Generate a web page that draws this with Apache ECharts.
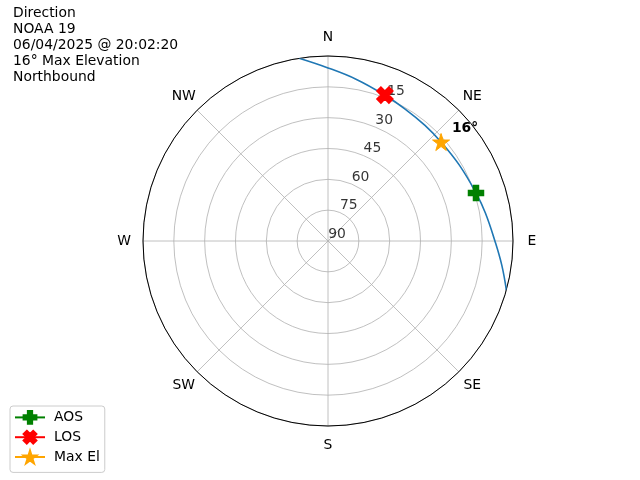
<!DOCTYPE html>
<html><head><meta charset="utf-8">
<script src="https://cdn.jsdelivr.net/npm/echarts@6/dist/echarts.min.js"></script>
<style>html,body{margin:0;padding:0;background:#fff}#c{width:640px;height:480px}</style>
</head><body><div id="c"></div>
<script>
// Pass track: azimuth (deg) and elevation (deg)
var trackAz = [351, 0, 10, 21, 30, 40, 49, 60, 72, 80, 90, 98, 105.4];
var trackEl = [0, 5.8, 10.2, 13.8, 15.6, 16.6, 16.9, 16.2, 14.3, 12.2, 8.8, 4.6, 0];
var aosPoint = [14.3, 72];   // [elevation, azimuth]
var losPoint = [13.8, 21.3];
var maxElPoint = [16.9, 48.8];
var maxElLabel = '16°';
var dirLabels = ['N', 'NE', 'E', 'SE', 'S', 'SW', 'W', 'NW'];
var dirAngles = [0, 45, 90, 135, 180, 225, 270, 315];
var radTicks = [90, 75, 60, 45, 30, 15];
var titleLines = ['Direction', 'NOAA 19', '06/04/2025 @ 20:02:20', '16° Max Elevation', 'Northbound'];

var trackData = trackAz.map(function (a, i) { return [trackEl[i], a]; });
var FONT = 'DejaVu Sans';
var FS = 13.9;
var DIR_PAD = 19; // px outside the horizon circle
var plusPath = 'path://M4,0H8V4H12V8H8V12H4V8H0V4H4Z';
var xPath = 'path://M3,0L6,3L9,0L12,3L9,6L12,9L9,12L6,9L3,12L0,9L3,6L0,3Z';
var starPath = 'path://M10,0L12.25,6.91L19.51,6.91L13.63,11.18L15.88,18.09L10,13.82L4.12,18.09L6.37,11.18L0.49,6.91L7.75,6.91Z';

var chart = echarts.init(document.getElementById('c'));
chart.setOption({
  animation: false,
  backgroundColor: '#fff',
  title: {
    text: titleLines.join('\n'), left: 13, top: 5, padding: 0,
    textStyle: { fontFamily: FONT, fontSize: FS, fontWeight: 'normal', color: '#000', lineHeight: 16 }
  },
  legend: {
    orient: 'vertical', left: 10, top: 406,
    itemWidth: 30, itemHeight: 16, itemGap: 5,
    padding: [4, 5, 8, 4],
    borderColor: '#cccccc', borderWidth: 1, borderRadius: 3,
    textStyle: { fontFamily: FONT, fontSize: FS, color: '#000', padding: [0, 0, 0, 4] },
    data: ['AOS', 'LOS', 'Max El']
  },
  polar: { center: [328, 241], radius: 185 },
  angleAxis: {
    type: 'value', min: 0, max: 360, interval: 45, startAngle: 90, clockwise: true,
    axisLine: { lineStyle: { color: '#000', width: 1 } },
    axisTick: { show: false },
    axisLabel: { show: false },
    splitLine: { show: true, lineStyle: { color: '#b0b0b0', width: 0.8 } }
  },
  radiusAxis: {
    type: 'value', min: 0, max: 90, interval: 15, inverse: true,
    axisLine: { show: false }, axisTick: { show: false }, axisLabel: { show: false },
    splitLine: { show: true, lineStyle: { color: '#b0b0b0', width: 0.8 } }
  },
  series: [
    {
      type: 'scatter', coordinateSystem: 'polar', symbolSize: 0, silent: true, z: 1,
      data: radTicks.map(function (t) { return [t, 22.5]; }),
      label: {
        show: true, position: 'inside', offset: [9, -7], color: '#000', fontFamily: FONT, fontSize: FS,
        formatter: function (p) { return String(p.value[0]); }
      }
    },
    {
      name: 'track', type: 'line', coordinateSystem: 'polar', data: trackData,
      smooth: 0.4, showSymbol: false, symbol: 'none', z: 3,
      lineStyle: { color: '#1f77b4', width: 1.6 }
    },
    {
      name: 'AOS', type: 'line', coordinateSystem: 'polar', data: [aosPoint], z: 5,
      symbol: plusPath, symbolSize: 15, itemStyle: { color: '#008000', borderColor: '#008000', borderWidth: 1.5 },
      lineStyle: { color: '#008000', width: 1.5 }
    },
    {
      name: 'LOS', type: 'line', coordinateSystem: 'polar', data: [losPoint], z: 5,
      symbol: xPath, symbolSize: 16, itemStyle: { color: '#ff0000', borderColor: '#ff0000', borderWidth: 1.5 },
      lineStyle: { color: '#ff0000', width: 1.5 }
    },
    {
      name: 'Max El', type: 'line', coordinateSystem: 'polar', data: [maxElPoint], z: 5,
      symbol: starPath, symbolSize: 17, itemStyle: { color: '#ffa500', borderColor: '#ffa500', borderWidth: 1 },
      lineStyle: { color: '#ffa500', width: 1.5 },
      label: {
        show: true, position: 'inside', offset: [24, -14], color: '#000',
        fontFamily: FONT, fontSize: FS, fontWeight: 'bold',
        formatter: function () { return maxElLabel; }
      }
    }
  ]
});

// Compass labels, centred just outside the horizon ring (positions from the polar scale)
var c = chart.convertToPixel({ seriesIndex: 0 }, [90, 0]);
var texts = dirAngles.map(function (a, i) {
  var p = chart.convertToPixel({ seriesIndex: 0 }, [0, a]);
  var dx = p[0] - c[0], dy = p[1] - c[1];
  var len = Math.sqrt(dx * dx + dy * dy) || 1;
  return {
    type: 'text',
    x: p[0] + dx / len * DIR_PAD, y: p[1] + dy / len * DIR_PAD,
    style: { text: dirLabels[i], fill: '#000', font: FS + 'px "' + FONT + '"', align: 'center', verticalAlign: 'middle' },
    silent: true
  };
});
chart.setOption({ graphic: texts });
</script></body></html>
